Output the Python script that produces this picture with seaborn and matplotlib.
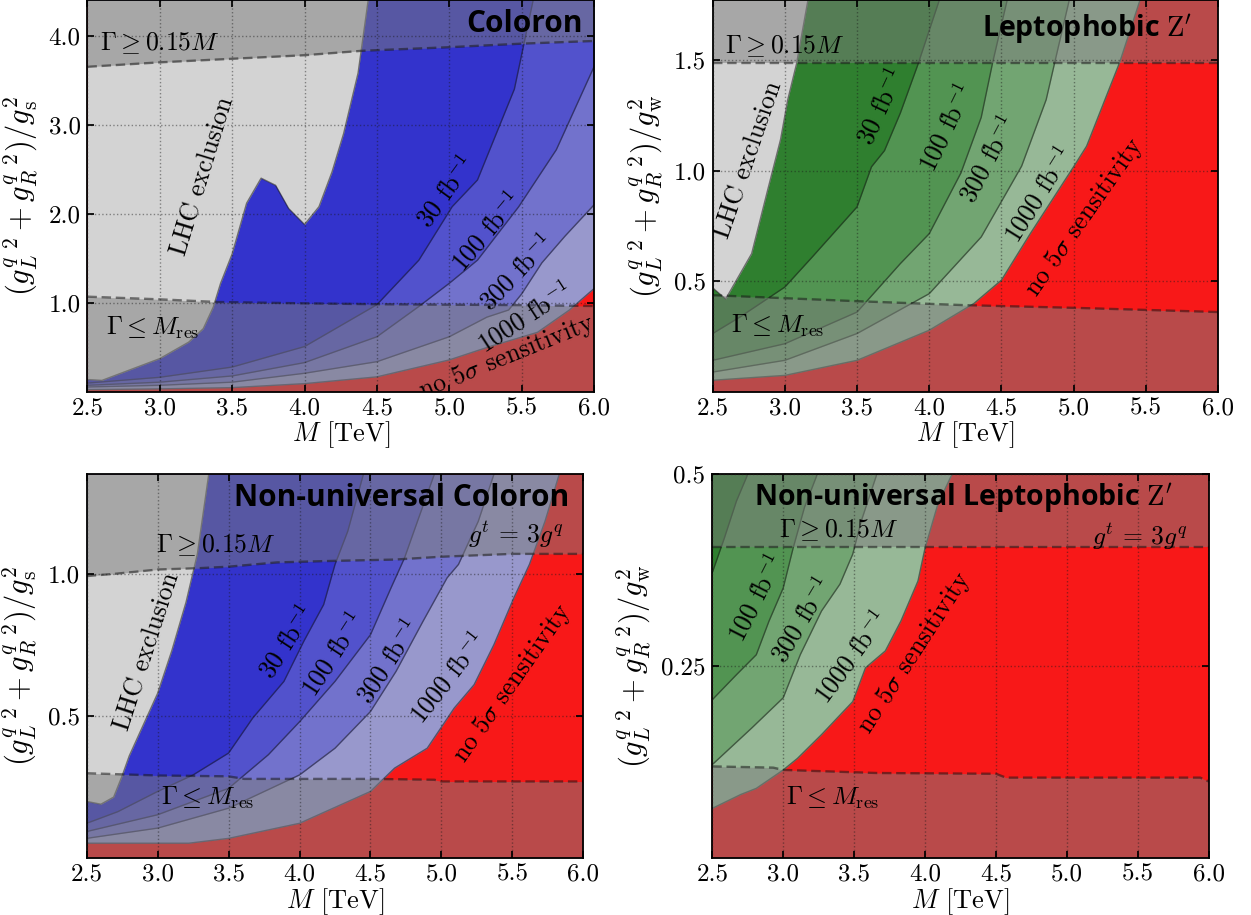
import matplotlib
matplotlib.use("Agg")
import matplotlib.pyplot as plt
import seaborn as sns

# ---------------- data ----------------
M_TICKS = [2.5, 3.0, 3.5, 4.0, 4.5, 5.0, 5.5, 6.0]

# Coloron
col_excl_m = [2.5, 2.6, 3.0, 3.2, 3.3, 3.37, 3.42, 3.5, 3.6, 3.7, 3.8, 3.89, 4.0, 4.1, 4.19, 4.27, 4.37, 4.44]
col_excl_g = [0.14, 0.13, 0.375, 0.56, 0.71, 0.955, 1.22, 1.55, 2.12, 2.40, 2.32, 2.06, 1.88, 2.08, 2.47, 2.90, 3.58, 4.40]
col_m30 = [2.5, 3.0, 3.5, 4.0, 4.5, 4.79, 5.02, 5.195, 5.28, 5.45, 5.58]
col_g30 = [0.10, 0.165, 0.28, 0.51, 0.98, 1.48, 2.08, 2.38, 2.72, 3.4, 4.40]
col_m100 = [2.5, 3.0, 3.5, 4.0, 4.5, 4.79, 5.0, 5.195, 5.48, 5.74, 6.0]
col_g100 = [0.075, 0.11, 0.18, 0.33, 0.62, 0.96, 1.22, 1.48, 2.08, 2.72, 3.65]
col_m300 = [2.5, 3.0, 3.5, 4.0, 4.5, 5.0, 5.26, 5.41, 5.5, 5.64, 5.80, 6.0]
col_g300 = [0.056, 0.075, 0.11, 0.21, 0.34, 0.62, 0.84, 0.92, 1.10, 1.45, 1.75, 2.10]
col_m1000 = [2.5, 3.0, 3.5, 4.0, 4.5, 5.0, 5.28, 5.61, 5.83, 6.0]
col_g1000 = [0.026, 0.035, 0.049, 0.094, 0.17, 0.36, 0.51, 0.67, 0.92, 1.16]
col_hi_m = [2.5, 3.0, 3.5, 4.0, 4.4, 5.0, 5.5, 6.0]
col_hi_g = [3.65, 3.70, 3.74, 3.78, 3.83, 3.87, 3.91, 3.94]
col_lo_m = [2.5, 3.0, 3.4, 4.0, 4.5, 5.0, 5.5, 6.0]
col_lo_g = [1.07, 1.04, 1.01, 0.995, 0.985, 0.98, 0.975, 0.965]
col_yticks = [1.0, 2.0, 3.0, 4.0]
col_yticklabels = ["1.0", "2.0", "3.0", "4.0"]

# Leptophobic Z'
lep_excl_m = [2.5, 2.59, 2.77, 2.88, 2.97, 3.02, 3.08, 3.16]
lep_excl_g = [0.47, 0.42, 0.625, 0.91, 1.14, 1.32, 1.48, 1.77]
lep_m30 = [2.5, 2.69, 3.0, 3.19, 3.5, 3.6, 3.69, 3.80, 3.92, 4.07]
lep_g30 = [0.264, 0.339, 0.474, 0.61, 0.836, 1.017, 1.09, 1.26, 1.476, 1.77]
lep_m100 = [2.5, 3.0, 3.5, 3.8, 4.0, 4.22, 4.36, 4.44, 4.54]
lep_g100 = [0.143, 0.218, 0.361, 0.58, 0.715, 0.99, 1.24, 1.49, 1.77]
lep_m300 = [2.5, 3.0, 3.5, 4.0, 4.36, 4.64, 4.81, 4.87, 4.97]
lep_g300 = [0.09, 0.143, 0.264, 0.444, 0.70, 1.02, 1.32, 1.49, 1.77]
lep_m1000 = [2.5, 3.0, 3.5, 4.0, 4.31, 4.5, 4.70, 5.0, 5.09, 5.32, 5.46]
lep_g1000 = [0.053, 0.075, 0.143, 0.279, 0.40, 0.505, 0.715, 1.017, 1.11, 1.49, 1.77]
lep_hi_m = [2.5, 6.0]
lep_hi_g = [1.485, 1.485]
lep_lo_m = [2.5, 3.5, 4.25, 5.0, 6.0]
lep_lo_g = [0.437, 0.41, 0.392, 0.38, 0.361]
lep_yticks = [0.5, 1.0, 1.5]
lep_yticklabels = ["0.5", "1.0", "1.5"]

# Non-universal Coloron
nuc_excl_m = [2.5, 2.6, 2.69, 2.75, 2.8, 2.9, 3.0, 3.1, 3.2, 3.28, 3.36]
nuc_excl_g = [0.2, 0.19, 0.215, 0.29, 0.36, 0.47, 0.58, 0.73, 0.90, 1.07, 1.35]
nuc_m30 = [2.5, 2.72, 3.0, 3.25, 3.5, 3.67, 3.89, 4.03, 4.17, 4.25, 4.34, 4.45]
nuc_g30 = [0.123, 0.164, 0.235, 0.293, 0.37, 0.493, 0.622, 0.763, 0.892, 1.033, 1.15, 1.35]
nuc_m100 = [2.5, 3.0, 3.5, 3.78, 4.0, 4.25, 4.5, 4.645, 4.74, 4.84, 4.95]
nuc_g100 = [0.094, 0.153, 0.246, 0.364, 0.48, 0.622, 0.786, 0.951, 1.056, 1.197, 1.35]
nuc_m300 = [2.5, 3.0, 3.5, 4.0, 4.25, 4.5, 4.68, 4.87, 5.04, 5.12, 5.26, 5.37]
nuc_g300 = [0.07, 0.106, 0.176, 0.293, 0.387, 0.516, 0.657, 0.833, 0.986, 1.033, 1.185, 1.35]
nuc_m1000 = [2.5, 3.22, 3.5, 4.0, 4.5, 4.67, 4.9, 5.09, 5.23, 5.37, 5.51, 5.62, 5.73, 5.83]
nuc_g1000 = [0.053, 0.053, 0.07, 0.123, 0.235, 0.317, 0.387, 0.528, 0.61, 0.751, 0.915, 1.033, 1.185, 1.35]
nuc_hi_m = [2.5, 2.7, 3.0, 3.3, 3.5, 3.84, 4.2, 4.67, 5.0, 5.5, 6.0]
nuc_hi_g = [0.992, 1.0, 1.015, 1.02, 1.025, 1.04, 1.045, 1.05, 1.06, 1.07, 1.07]
nuc_lo_m = [2.5, 3.0, 3.5, 3.61, 4.0, 4.5, 4.95, 5.0, 6.0]
nuc_lo_g = [0.299, 0.291, 0.288, 0.279, 0.279, 0.279, 0.276, 0.27, 0.27]
nuc_yticks = [0.5, 1.0]
nuc_yticklabels = ["0.5", "1.0"]

# Non-universal Leptophobic Z'
nul_m30 = [2.5, 2.585, 2.67, 2.75]
nul_g30 = [0.372, 0.417, 0.465, 0.5]
nul_m100 = [2.5, 2.67, 2.81, 2.9, 3.0, 3.07, 3.15, 3.24]
nul_g100 = [0.2065, 0.239, 0.265, 0.309, 0.352, 0.404, 0.457, 0.5]
nul_m300 = [2.5, 2.78, 3.0, 3.12, 3.27, 3.4, 3.49, 3.55, 3.66]
nul_g300 = [0.122, 0.17, 0.209, 0.265, 0.322, 0.357, 0.396, 0.439, 0.5]
nul_m1000 = [2.5, 2.7, 2.81, 3.0, 3.1, 3.27, 3.49, 3.58, 3.72, 3.83, 3.95, 4.0, 4.09, 4.19]
nul_g1000 = [0.065, 0.083, 0.091, 0.115, 0.130, 0.161, 0.204, 0.248, 0.27, 0.309, 0.361, 0.404, 0.461, 0.5]
nul_hi_m = [2.5, 6.0]
nul_hi_g = [0.405, 0.405]
nul_lo_m = [2.5, 2.93, 3.0, 3.66, 4.5, 4.57, 5.94, 6.0]
nul_lo_g = [0.1196, 0.118, 0.115, 0.111, 0.11, 0.105, 0.105, 0.1]
nul_yticks = [0.25, 0.5]
nul_yticklabels = ["0.25", "0.5"]

lumi_labels = ["1000 fb$^{-1}$", "300 fb$^{-1}$", "100 fb$^{-1}$", "30 fb$^{-1}$"]

# ---------------- style ----------------
sns.set_theme(style="ticks")
plt.rcParams.update({
    "font.family": ["cmr10", "DejaVu Serif"],
    "mathtext.fontset": "cm",
    "axes.unicode_minus": False,
    "axes.formatter.use_mathtext": True,
    "font.size": 18,
    "axes.labelsize": 19,
    "xtick.labelsize": 18,
    "ytick.labelsize": 18,
    "xtick.direction": "in",
    "ytick.direction": "in",
    "xtick.top": True,
    "ytick.right": True,
    "xtick.major.size": 5,
    "ytick.major.size": 5,
    "xtick.major.pad": 4,
    "ytick.major.pad": 5,
    "axes.edgecolor": "black",
    "axes.linewidth": 1.3,
    "xtick.color": "black",
    "ytick.color": "black",
    "text.color": "black",
    "axes.labelcolor": "black",
})

RED = "#f81818"
BLUES = ["#9898cc", "#7272cc", "#5252cc", "#3333cc"]
GREENS = ["#97b897", "#72a572", "#529452", "#2f7f2f"]
EXCL = "#d3d3d3"
SHADE = "#7c7c7c"


def boundary(ax, m, g, **kw):
    sns.lineplot(x=m, y=g, ax=ax, sort=False, estimator=None, legend=False, **kw)


def panel(ax, ytop, curves, colors, excl, hi, lo, yticks, yticklabels, ylabel):
    ax.set_facecolor(RED)
    for (m, g), c in zip(curves, colors):
        ax.fill_between(m, g, ytop, color=c, lw=0, zorder=1)
        boundary(ax, m, g, color="k", alpha=0.55, lw=1.0, zorder=1.5)
    if excl is not None:
        ax.fill_between(excl[0], excl[1], ytop, color=EXCL, lw=0, zorder=1.6)
        boundary(ax, excl[0], excl[1], color="k", alpha=0.55, lw=1.0, zorder=1.7)
    ax.fill_between(hi[0], hi[1], ytop, color=SHADE, alpha=0.5, lw=0, zorder=1.8)
    ax.fill_between(lo[0], 0, lo[1], color=SHADE, alpha=0.5, lw=0, zorder=1.8)
    for m, g in (hi, lo):
        boundary(ax, m, g, color="k", alpha=0.55, lw=1.7, dashes=(4, 2), zorder=1.9)
    ax.set_xlim(2.5, 6.0)
    ax.set_ylim(0, ytop)
    ax.set_xticks(M_TICKS)
    ax.set_xticklabels([f"{t:.1f}" for t in M_TICKS])
    ax.set_yticks(yticks)
    ax.set_yticklabels(yticklabels)
    ax.set_axisbelow(False)
    ax.grid(True, ls=":", color="k", alpha=0.45, lw=1.0)
    ax.set_xlabel(r"$M$ [TeV]", labelpad=0)
    ax.set_ylabel(ylabel, fontsize=22, labelpad=6)


def label(ax, x, y, s, rot=0, **kw):
    kw.setdefault("fontsize", 18.5)
    ax.text(x, y, s, rotation=rot, ha="center", va="center", rotation_mode="anchor",
            zorder=5, clip_on=True, **kw)


YL_S = r"$({g^q_L}^{\,2}+{g^q_R}^{\,2})/g_{\rm s}^2$"
YL_W = r"$({g^q_L}^{\,2}+{g^q_R}^{\,2})/g_{\rm w}^2$"
HI_TXT = r"$\Gamma \geq 0.15 M$"
LO_TXT = r"$\Gamma \leq M_{\rm res}$"
GT_TXT = r"$g^t\,=\,3g^q$"
NO5 = r"no 5$\sigma$ sensitivity"
TFONT = dict(family="Open Sans", weight="bold", fontsize=21.5, color="black")

fig = plt.figure(figsize=(12.51, 9.15), dpi=100)
ax1 = fig.add_axes([0.0699, 0.5716, 0.4049, 0.4284])
ax2 = fig.add_axes([0.5697, 0.5716, 0.4039, 0.4284])
ax3 = fig.add_axes([0.0693, 0.0620, 0.3970, 0.4197])
ax4 = fig.add_axes([0.5694, 0.0620, 0.3968, 0.4197])

# Coloron
panel(ax1, 4.40,
      [(col_m1000, col_g1000), (col_m300, col_g300), (col_m100, col_g100), (col_m30, col_g30)],
      BLUES, (col_excl_m, col_excl_g), (col_hi_m, col_hi_g), (col_lo_m, col_lo_g),
      col_yticks, col_yticklabels, YL_S)
label(ax1, 3.30, 2.42, "LHC exclusion", 73)
label(ax1, 4.98, 2.24, lumi_labels[3], 54)
label(ax1, 5.26, 1.79, lumi_labels[2], 50)
label(ax1, 5.47, 1.34, lumi_labels[1], 46)
label(ax1, 5.52, 0.83, lumi_labels[0], 33)
label(ax1, 5.40, 0.39, NO5, 22)
label(ax1, 3.0, 3.92, HI_TXT)
label(ax1, 2.95, 0.72, LO_TXT)
ax1.text(5.92, 4.13, "Coloron", ha="right", va="center", zorder=5, **TFONT)

# Leptophobic Z'
panel(ax2, 1.77,
      [(lep_m1000, lep_g1000), (lep_m300, lep_g300), (lep_m100, lep_g100), (lep_m30, lep_g30)],
      GREENS, (lep_excl_m, lep_excl_g), (lep_hi_m, lep_hi_g), (lep_lo_m, lep_lo_g),
      lep_yticks, lep_yticklabels, YL_W)
label(ax2, 2.75, 1.05, "LHC exclusion", 71)
label(ax2, 3.67, 1.29, lumi_labels[3], 65)
label(ax2, 4.12, 1.19, lumi_labels[2], 64)
label(ax2, 4.41, 1.05, lumi_labels[1], 62)
label(ax2, 4.76, 0.89, lumi_labels[0], 58)
label(ax2, 5.08, 0.79, NO5, 55)
label(ax2, 3.0, 1.56, HI_TXT)
label(ax2, 2.95, 0.30, LO_TXT)
ax2.text(5.82, 1.64, r"Leptophobic $\mathrm{Z}^{\prime}$", ha="right", va="center", zorder=5,
         **{**TFONT, "fontsize": 20.5})

# Non-universal Coloron
panel(ax3, 1.35,
      [(nuc_m1000, nuc_g1000), (nuc_m300, nuc_g300), (nuc_m100, nuc_g100), (nuc_m30, nuc_g30)],
      BLUES, (nuc_excl_m, nuc_excl_g), (nuc_hi_m, nuc_hi_g), (nuc_lo_m, nuc_lo_g),
      nuc_yticks, nuc_yticklabels, YL_S)
label(ax3, 2.93, 0.726, "LHC exclusion", 72)
label(ax3, 3.91, 0.76, lumi_labels[3], 57)
label(ax3, 4.24, 0.715, lumi_labels[2], 57)
label(ax3, 4.63, 0.69, lumi_labels[1], 57)
label(ax3, 5.05, 0.634, lumi_labels[0], 52)
label(ax3, 5.50, 0.616, NO5, 55)
label(ax3, 3.41, 1.10, HI_TXT)
label(ax3, 3.35, 0.212, LO_TXT)
label(ax3, 5.52, 1.137, GT_TXT)
ax3.text(5.90, 1.266, "Non-universal Coloron", ha="right", va="center", zorder=5, **TFONT)

# Non-universal Leptophobic Z'
panel(ax4, 0.5,
      [(nul_m1000, nul_g1000), (nul_m300, nul_g300), (nul_m100, nul_g100), (nul_m30, nul_g30)],
      GREENS, None, (nul_hi_m, nul_hi_g), (nul_lo_m, nul_lo_g),
      nul_yticks, nul_yticklabels, YL_W)
label(ax4, 2.81, 0.339, lumi_labels[2], 63)
label(ax4, 3.13, 0.31, lumi_labels[1], 59)
label(ax4, 3.48, 0.261, lumi_labels[0], 54)
label(ax4, 3.93, 0.267, NO5, 57)
label(ax4, 3.39, 0.427, HI_TXT)
label(ax4, 3.35, 0.0785, LO_TXT)
label(ax4, 5.51, 0.419, GT_TXT)
ax4.text(4.27, 0.469, r"Non-universal Leptophobic $\mathrm{Z}^{\prime}$", ha="center", va="center",
         zorder=5, **{**TFONT, "fontsize": 20.5})

fig.savefig("out.png", dpi=100)
